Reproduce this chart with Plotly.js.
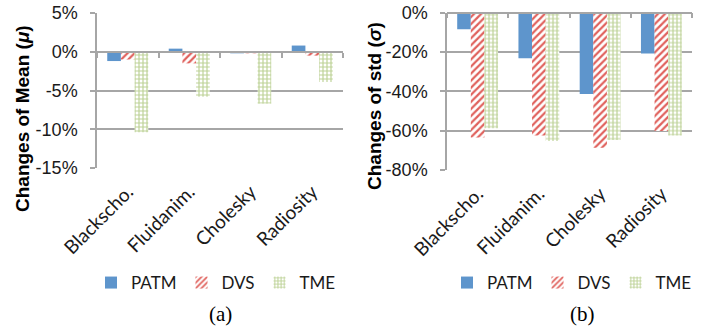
<!DOCTYPE html>
<html>
<head>
<meta charset="utf-8">
<script src="https://cdn.plot.ly/plotly-3.0.1.min.js"></script>
<style>
  html, body { margin: 0; padding: 0; background: #fff; }
  #chart { width: 703px; height: 329px; }
</style>
</head>
<body>
<div id="chart"></div>
<script>
// ---- Data (percent values) ----
const categories = ['Blackscho.', 'Fluidanim.', 'Cholesky', 'Radiosity'];
const seriesNames = ['PATM', 'DVS', 'TME'];

// (a) Changes of Mean
const meanPATM = [-1.2, 0.4, -0.2, 0.8];
const meanDVS  = [-1.0, -1.5, -0.2, -0.5];
const meanTME  = [-10.4, -5.8, -6.7, -3.9];

// (b) Changes of std
const stdPATM = [-8.4, -23.2, -41.4, -20.7];
const stdDVS  = [-63.5, -62.5, -68.7, -60.2];
const stdTME  = [-58.8, -65.3, -64.8, -62.4];

const meanTicks = [5, 0, -5, -10, -15];
const stdTicks  = [0, -20, -40, -60, -80];

const titleA = '<b>Changes of Mean (<i>μ</i>)</b>';
const titleB = '<b>Changes of std (<i>σ</i>)</b>';

// ---- Styling ----
const W = 703, H = 329;
const gridColor = '#A6A6A6';
const labelFont = 'Lato, "Open Sans", sans-serif';
const axisFont = '"Liberation Sans", Arial, sans-serif';
const serifFont = '"Liberation Serif", "Times New Roman", serif';

const styles = {
  PATM: { color: '#5E95CC' },
  DVS:  { color: '#E0615C', pattern: { shape: '/', fgcolor: '#E0615C', bgcolor: '#FFFFFF', size: 5, solidity: 0.45 } },
  TME:  { color: '#BDD296', pattern: { shape: '+', fgcolor: '#BDD296', bgcolor: '#FFFFFF', size: 4, solidity: 0.5 } }
};

function px2fx(p) { return p / W; }
function px2fy(p) { return 1 - p / H; }

const domA = { x: [px2fx(97), px2fx(343)], y: [px2fy(168), px2fy(13)] };
const domB = { x: [px2fx(447), px2fx(692)], y: [px2fy(170), px2fy(12.7)] };

const rangeA = [-15, 5];
const rangeB = [-80, 0];

function zeroPos(dom, range) {
  const f = (0 - range[0]) / (range[1] - range[0]);
  return dom.y[0] + f * (dom.y[1] - dom.y[0]);
}

function makeBar(name, x, y, xa, ya, legend) {
  const s = styles[name];
  const marker = { color: s.color, line: { width: 0 } };
  if (s.pattern) marker.pattern = s.pattern;
  return {
    type: 'bar', name: name, x: x, y: y, xaxis: xa, yaxis: ya,
    marker: marker, legend: legend, showlegend: true,
    hovertemplate: '%{x}: %{y}%<extra>' + name + '</extra>'
  };
}

const traces = [
  makeBar('PATM', categories, meanPATM, 'x', 'y', 'legend'),
  makeBar('DVS',  categories, meanDVS,  'x', 'y', 'legend'),
  makeBar('TME',  categories, meanTME,  'x', 'y', 'legend'),
  makeBar('PATM', categories, stdPATM, 'x3', 'y2', 'legend2'),
  makeBar('DVS',  categories, stdDVS,  'x3', 'y2', 'legend2'),
  makeBar('TME',  categories, stdTME,  'x3', 'y2', 'legend2')
];

const boundaryTicks = [-0.5, 0.5, 1.5, 2.5, 3.5];

function catAxis(dom, anchor) {
  return {
    domain: dom.x, anchor: anchor, type: 'category',
    categoryorder: 'array', categoryarray: categories,
    range: [-0.5, 3.5],
    showline: false, showgrid: false, zeroline: false,
    ticks: '', tickangle: -45, ticklabelstandoff: 8,
    tickfont: { family: labelFont, size: 19, color: '#1a1a1a' },
    fixedrange: true
  };
}

function lineAxis(dom, range, over) {
  return {
    domain: dom.x, anchor: 'free', overlaying: over,
    position: zeroPos(dom, range),
    type: 'linear', range: [-0.5, 3.5],
    tickvals: boundaryTicks, showticklabels: false,
    ticks: 'outside', ticklen: 5, tickwidth: 1.5, tickcolor: gridColor,
    showline: true, linecolor: gridColor, linewidth: 1.5,
    showgrid: false, zeroline: false, side: 'bottom', fixedrange: true
  };
}

function valAxis(dom, range, ticks, anchor) {
  return {
    domain: dom.y, anchor: anchor, range: range,
    tickvals: ticks, ticktext: ticks.map(v => v + '%'),
    showgrid: true, gridcolor: gridColor, gridwidth: 1.5,
    zeroline: false,
    showline: true, linecolor: gridColor, linewidth: 1.5,
    ticks: 'outside', ticklen: 5, tickwidth: 1.5, tickcolor: gridColor,
    ticklabelstandoff: 9,
    tickfont: { family: axisFont, size: 18, color: '#1a1a1a' },
    fixedrange: true
  };
}

const legendBase = {
  orientation: 'h', xanchor: 'left', yanchor: 'middle',
  font: { family: labelFont, size: 17, color: '#1a1a1a' },
  bgcolor: 'rgba(0,0,0,0)', itemclick: false, itemdoubleclick: false
};

function titleAnn(text, cx, cy) {
  return { text: text, x: px2fx(cx), y: px2fy(cy), xref: 'paper', yref: 'paper',
    xanchor: 'center', yanchor: 'middle', textangle: -90, showarrow: false,
    font: { family: axisFont, size: 19, color: '#000' } };
}
function capAnn(text, cx, cy) {
  return { text: text, x: px2fx(cx), y: px2fy(cy), xref: 'paper', yref: 'paper',
    xanchor: 'center', yanchor: 'middle', showarrow: false,
    font: { family: serifFont, size: 21, color: '#000' } };
}

const layout = {
  width: W, height: H,
  margin: { l: 0, r: 0, t: 0, b: 0 },
  paper_bgcolor: '#fff', plot_bgcolor: '#fff',
  barmode: 'group', bargap: 0.333, bargroupgap: 0,
  showlegend: true,
  xaxis: catAxis(domA, 'y'),
  xaxis2: lineAxis(domA, rangeA, 'x'),
  xaxis3: catAxis(domB, 'y2'),
  xaxis4: lineAxis(domB, rangeB, 'x3'),
  yaxis: valAxis(domA, rangeA, meanTicks, 'x'),
  yaxis2: valAxis(domB, rangeB, stdTicks, 'x3'),
  legend: Object.assign({}, legendBase, { x: px2fx(91), y: px2fy(283) }),
  legend2: Object.assign({}, legendBase, { x: px2fx(447), y: px2fy(283) }),
  annotations: [
    titleAnn(titleA, 23, 119),
    titleAnn(titleB, 374, 106),
    capAnn('(a)', 220, 314),
    capAnn('(b)', 582, 314)
  ]
};

// empty traces so the overlay axes x2 / x4 (zero line with category ticks) are drawn
traces.push({ type: 'scatter', x: [], y: [], xaxis: 'x2', yaxis: 'y', showlegend: false, hoverinfo: 'skip' });
traces.push({ type: 'scatter', x: [], y: [], xaxis: 'x4', yaxis: 'y2', showlegend: false, hoverinfo: 'skip' });

Plotly.newPlot('chart', traces, layout, { displayModeBar: false });
</script>
</body>
</html>
